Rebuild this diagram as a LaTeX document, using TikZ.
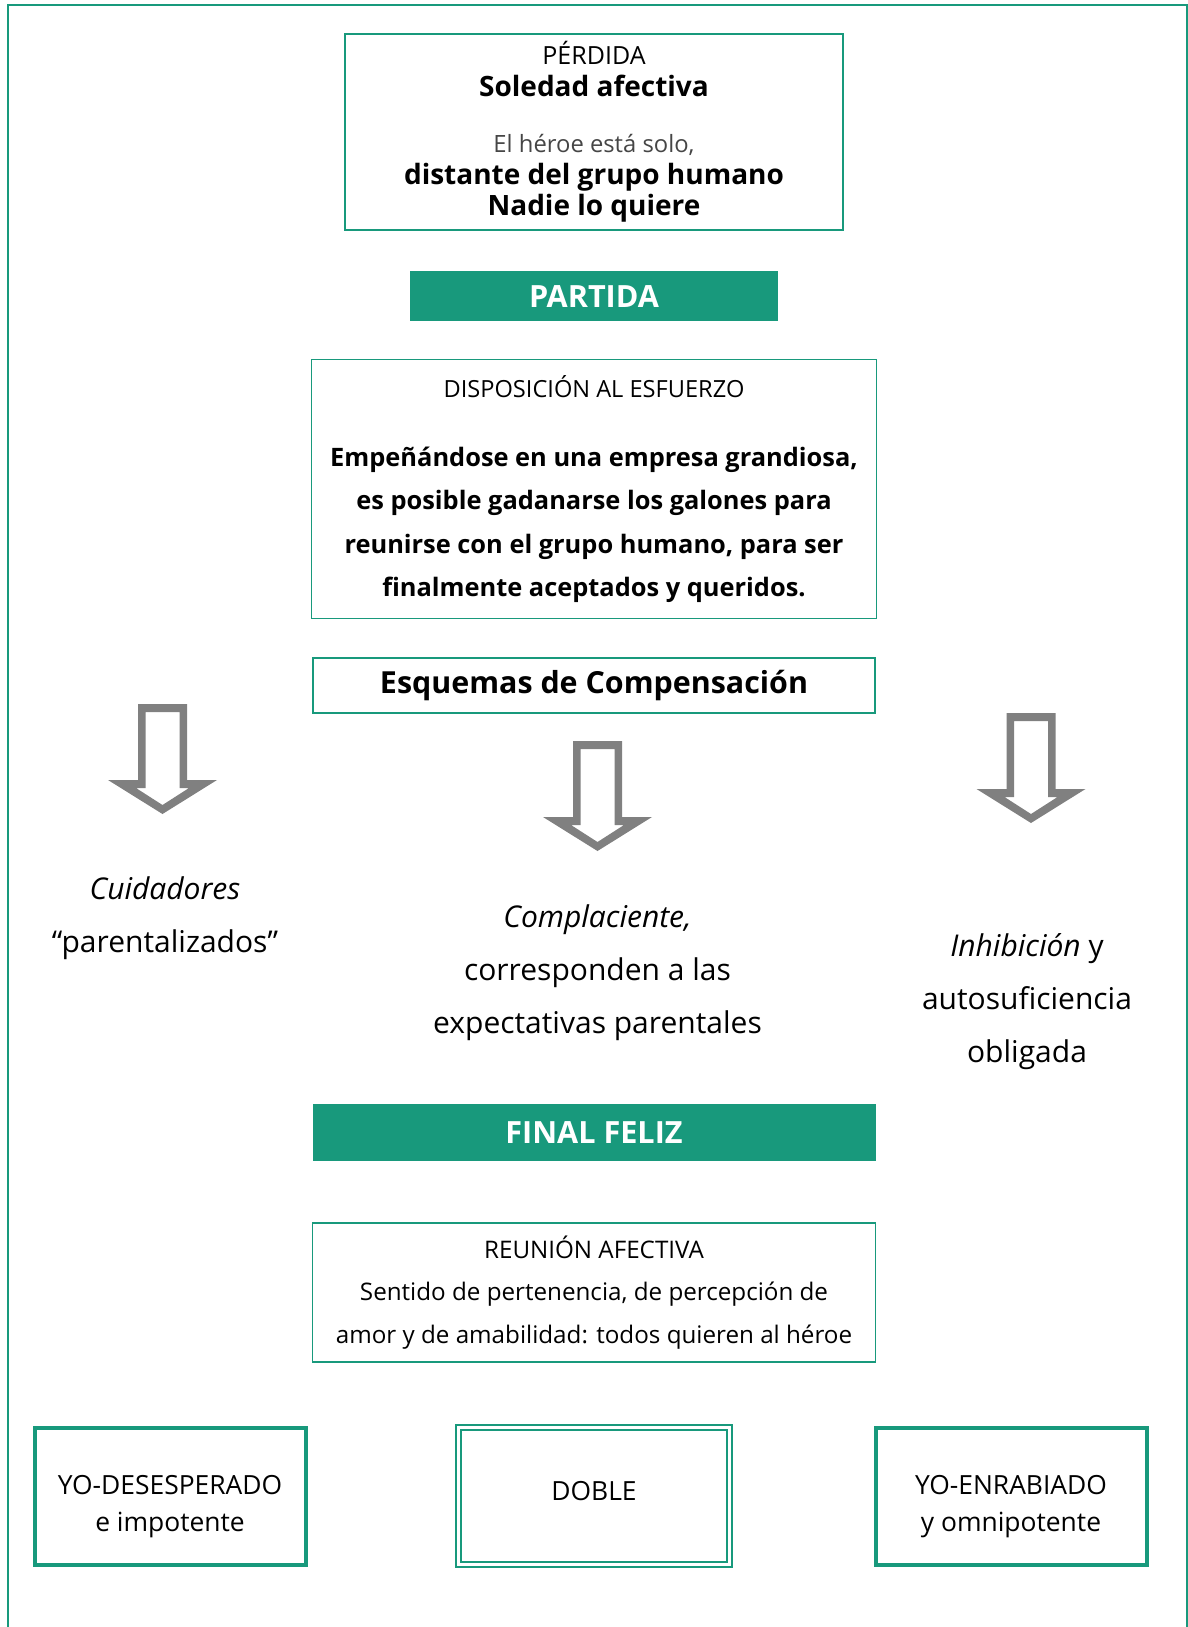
\documentclass[tikz,border=0pt]{standalone}
\usepackage{fontspec}
\setmainfont{Open Sans}
\usetikzlibrary{positioning}

\definecolor{heroteal}{RGB}{24,153,124}
\definecolor{arrowgray}{RGB}{128,128,128}
\definecolor{textgray}{RGB}{70,70,70}

\begin{document}
\begin{tikzpicture}[
  x=0.5pt, y=-0.5pt,
  box/.style={rectangle, draw=heroteal, line width=0.75pt, align=center, inner sep=0pt},
  bandbar/.style={rectangle, fill=heroteal, text=white, align=center, font=\fontsize{15.3}{18}\selectfont\bfseries},
  endbox/.style={rectangle, draw=heroteal, line width=2pt, minimum width=135.5pt, minimum height=68.5pt, align=center, font=\fontsize{13.2}{18.5}\selectfont},
  twinbox/.style={endbox, line width=1pt, double=white, double distance=1.5pt},
  schemetext/.style={align=center, font=\fontsize{15}{26.5}\selectfont},
  outerframe/.style={draw=heroteal, line width=0.8pt},
  hollowarrow/.pic={
    \fill[arrowgray, even odd rule]
      (-24.5,0) -- (24.5,0) -- (24.5,76) -- (54.5,76) -- (0,110) -- (-54.5,76) -- (-24.5,76) -- cycle
      (-17,8) -- (17,8) -- (17,84) -- (26.5,84) -- (0,101) -- (-26.5,84) -- (-17,84) -- cycle;
  },
]
\useasboundingbox (0,0) rectangle (1188,1627);
\draw[outerframe] (8,1627) |- (1187,5) -- (1187,1627);

\node[box, minimum width=249pt, minimum height=98pt, font=\fontsize{12.5}{15.8}\selectfont] (perdida) at (594,132) {PÉRDIDA\\
{\fontsize{14}{15.8}\selectfont\bfseries Soledad afectiva}\\[12.2pt]
{\fontsize{11.9}{15.8}\selectfont\color{textgray}El héroe está solo,}\\
{\fontsize{14}{15.8}\selectfont\bfseries distante del grupo humano}\\
{\fontsize{14}{15.8}\selectfont\bfseries Nadie lo quiere}};
\node[bandbar, minimum width=184pt, minimum height=25pt, below=20pt of perdida] (partida) {PARTIDA};
\node[box, minimum width=282.5pt, minimum height=129.5pt, below=18.5pt of partida, font=\fontsize{11.8}{21.6}\selectfont] (esfuerzo) {DISPOSICIÓN AL ESFUERZO\\[13.2pt]
{\fontsize{12.7}{21.6}\selectfont\bfseries Empeñándose en una empresa grandiosa,}\\
{\fontsize{12.7}{21.6}\selectfont\bfseries es posible gadanarse los galones para}\\
{\fontsize{12.7}{21.6}\selectfont\bfseries reunirse con el grupo humano, para ser}\\
{\fontsize{12.7}{21.6}\selectfont\bfseries finalmente aceptados y queridos.}};
\node[box, minimum width=281pt, minimum height=27.5pt, below=19pt of esfuerzo, font=\fontsize{15.2}{18}\selectfont\bfseries] (esquemas) {Esquemas de Compensación};

% Schemes
\pic at (162.5,704) {hollowarrow};
\pic at (597.5,741) {hollowarrow};
\pic at (1031,713) {hollowarrow};
\node[schemetext] (cuidadores) at (165,918) {\textit{Cuidadores}\\“parentalizados”};
\node[schemetext] (complaciente) at (597.5,973) {\textit{Complaciente,}\\corresponden a las\\expectativas parentales};
\node[schemetext] (inhibicion) at (1027,1002) {\textit{Inhibición} y\\autosuficiencia\\obligada};

\node[bandbar, minimum width=281.5pt, minimum height=28.5pt, below=195pt of esquemas] (final) {FINAL FELIZ};
\node[box, minimum width=281.5pt, minimum height=69.5pt, below=30.5pt of final, font=\fontsize{12.1}{21.3}\selectfont] (reunion) {REUNIÓN AFECTIVA\\
Sentido de pertenencia, de percepción de\\
amor y de amabilidad: todos quieren al héroe};

% Outcomes
\node[twinbox, below=32pt of reunion, text depth=5pt] (doble) {DOBLE};
\node[endbox, left=75pt of doble, text height=38pt, text depth=3pt] (desesperado) {YO-DESESPERADO\\e impotente};
\node[endbox, right=71.5pt of doble, text height=38pt, text depth=3pt] (enrabiado) {YO-ENRABIADO\\y omnipotente};

\end{tikzpicture}
\end{document}
